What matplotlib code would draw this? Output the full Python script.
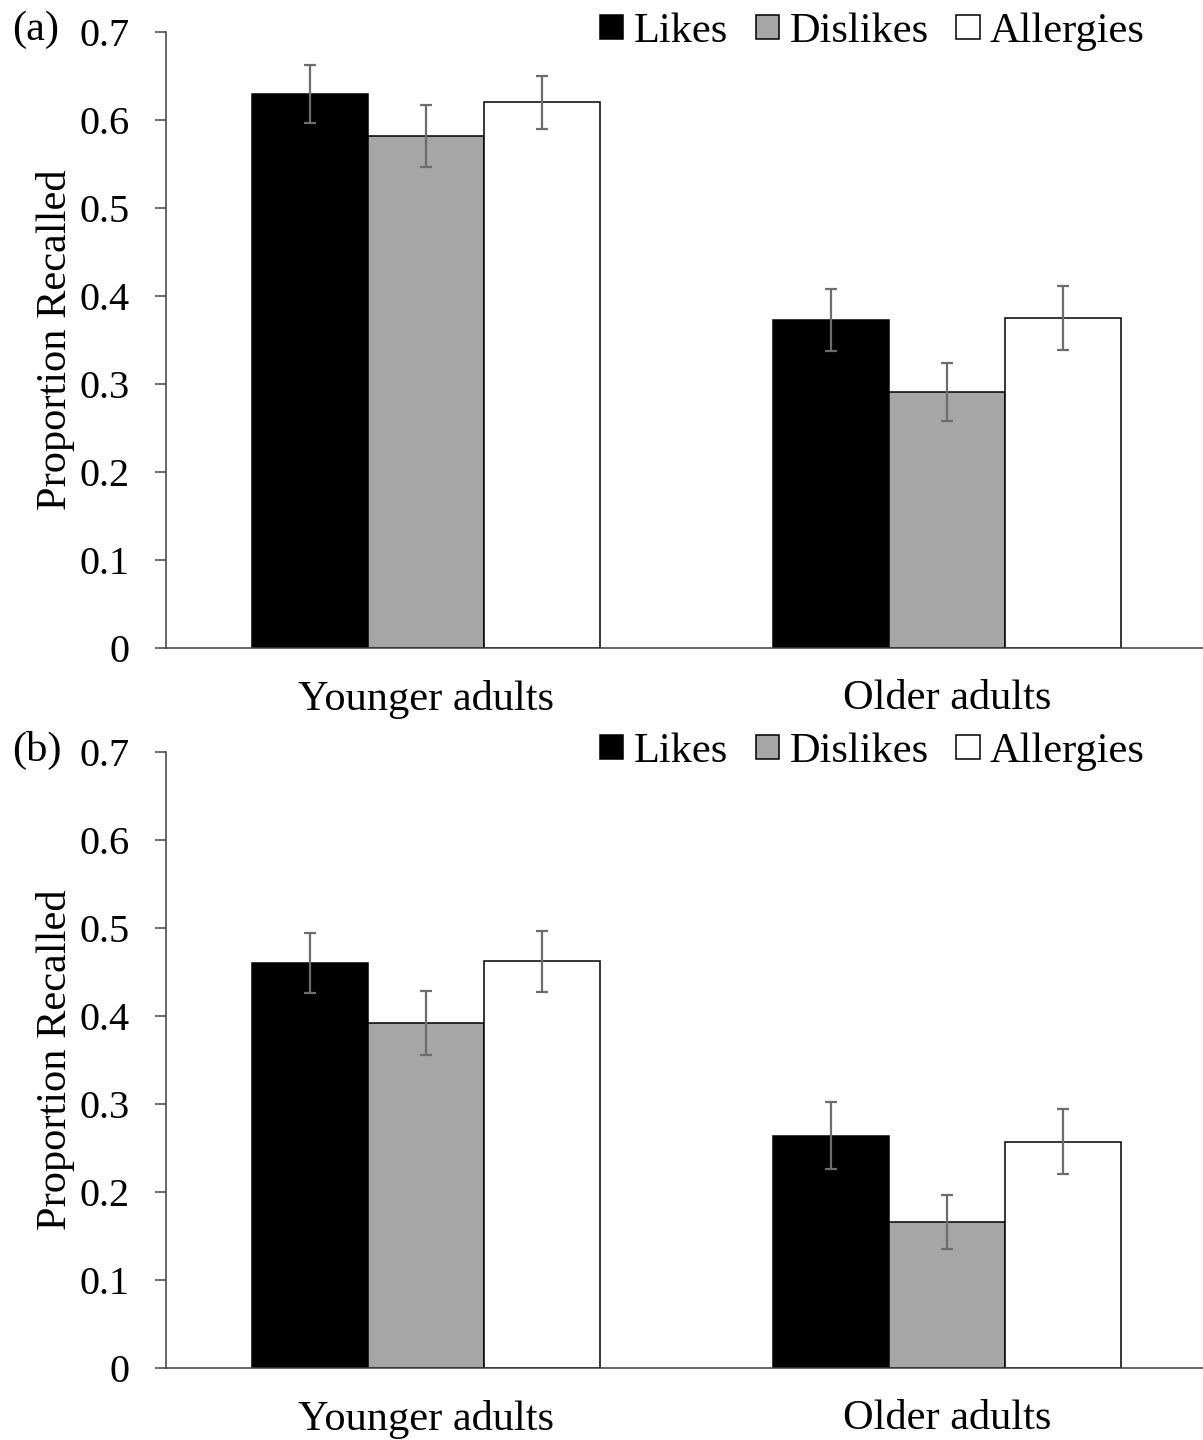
import matplotlib
matplotlib.use("Agg")
import matplotlib.pyplot as plt
from matplotlib.patches import Patch
import numpy as np

plt.rcParams['font.family'] = ['Liberation Serif', 'DejaVu Serif']

groups = ['Younger adults', 'Older adults']
series = ['Likes', 'Dislikes', 'Allergies']
colors = ['#000000', '#a6a6a6', '#ffffff']

# panel (a)
a_likes = [0.630, 0.373]
a_dislikes = [0.582, 0.291]
a_allergies = [0.620, 0.375]
a_likes_err = [0.033, 0.035]
a_dislikes_err = [0.035, 0.033]
a_allergies_err = [0.030, 0.036]

# panel (b)
b_likes = [0.460, 0.264]
b_dislikes = [0.392, 0.166]
b_allergies = [0.462, 0.257]
b_likes_err = [0.034, 0.038]
b_dislikes_err = [0.036, 0.031]
b_allergies_err = [0.035, 0.037]

yticks = [0, 0.1, 0.2, 0.3, 0.4, 0.5, 0.6, 0.7]
ytick_labels = ['0', '0.1', '0.2', '0.3', '0.4', '0.5', '0.6', '0.7']

W, H = 1203, 1440
fig = plt.figure(figsize=(W / 100, H / 100), dpi=100)

FS = 29
FS_BIG = 30.5
spine_col = '#404040'
err_col = '#6d6d6d'
bw = 1 / 4.5


def draw_panel(ax, vals, errs, tag, tag_y):
    x = np.arange(len(groups))
    for i, (v, e) in enumerate(zip(vals, errs)):
        ax.bar(x + (i - 1) * bw, v, width=bw, color=colors[i],
               edgecolor='#000000', linewidth=1.1, zorder=2)
        ax.errorbar(x + (i - 1) * bw, v, yerr=e, fmt='none', ecolor=err_col,
                    elinewidth=1.6, capsize=4.5, capthick=1.6, zorder=3)
    ax.set_xlim(-0.5, 1.5)
    ax.set_ylim(0, 0.7)
    ax.set_yticks(yticks)
    ax.set_yticklabels(ytick_labels)
    ax.set_xticks(x)
    ax.set_xticklabels(groups)
    ax.tick_params(axis='y', direction='out', length=8, width=1.1,
                   color=spine_col, pad=18, labelsize=FS)
    ax.tick_params(axis='x', length=0, pad=23, labelsize=FS_BIG)
    for s in ['top', 'right']:
        ax.spines[s].set_visible(False)
    for s in ['left', 'bottom']:
        ax.spines[s].set_color(spine_col)
        ax.spines[s].set_linewidth(1.1)
    ax.set_ylabel('Proportion Recalled', fontsize=FS_BIG)
    ax.yaxis.set_label_coords(-0.087, 0.5)

    handles = [Patch(facecolor=c, edgecolor='#000000', linewidth=1.1) for c in colors]
    ax.legend(handles, series, loc='center right',
              bbox_to_anchor=(1145 / W, 1 - (tag_y + 2) / H),
              bbox_transform=fig.transFigure, ncol=3, frameon=False,
              fontsize=FS_BIG, handlelength=0.55, handleheight=0.48,
              handletextpad=0.25, columnspacing=0.65, borderpad=0,
              borderaxespad=0)
    fig.text(12 / W, 1 - tag_y / H, tag, fontsize=FS_BIG, ha='left', va='center')


left = 165.5 / W
width = 1042 / W
ax_a = fig.add_axes([left, 1 - 648 / H, width, 616 / H])
ax_b = fig.add_axes([left, 1 - 1368 / H, width, 616 / H])

draw_panel(ax_a, [a_likes, a_dislikes, a_allergies],
           [a_likes_err, a_dislikes_err, a_allergies_err], '(a)', 30)
draw_panel(ax_b, [b_likes, b_dislikes, b_allergies],
           [b_likes_err, b_dislikes_err, b_allergies_err], '(b)', 750)

fig.savefig('out.png', dpi=100)
